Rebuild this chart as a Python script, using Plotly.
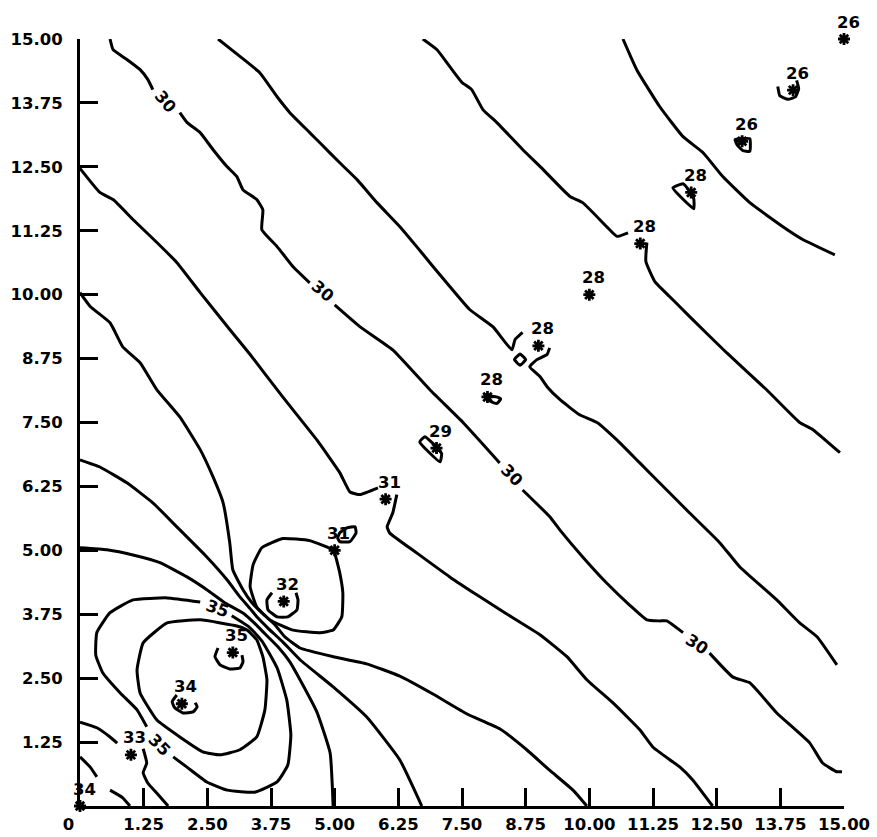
import plotly.graph_objects as go

# Sample sites along the diagonal transect and the value measured at each
site_x = [0, 1, 2, 3, 4, 5, 6, 7, 8, 9, 10, 11, 12, 13, 14, 15]
site_y = [0, 1, 2, 3, 4, 5, 6, 7, 8, 9, 10, 11, 12, 13, 14, 15]
site_val = [34, 33, 34, 35, 32, 31, 31, 29, 28, 28, 28, 28, 28, 26, 26, 26]

# Axis ticks
tick_vals = [0, 1.25, 2.5, 3.75, 5, 6.25, 7.5, 8.75, 10, 11.25, 12.5, 13.75, 15]
x_tick_text = ["0\u00a0\u00a0\u00a0\u00a0", "1.25", "2.50", "3.75", "5.00", "6.25", "7.50",
               "8.75", "10.00", "11.25", "12.50", "13.75", "15.00"]
y_tick_vals = tick_vals[1:]
y_tick_text = ["1.25", "2.50", "3.75", "5.00", "6.25", "7.50", "8.75",
               "10.00", "11.25", "12.50", "13.75", "15.00"]

# ---- isoline traces (x, y in map units) ----
c27_x = [10.66, 10.93, 11.38, 11.84, 12.23, 12.62, 13.15, 13.80, 14.19, 14.82]
c27_y = [15.0, 14.40, 13.68, 13.09, 12.78, 12.31, 11.80, 11.33, 11.08, 10.78]

c28a_x = [6.73, 7.01, 7.26, 7.50, 7.69, 7.91, 8.18, 8.69, 9.09, 9.62, 9.87, 10.34, 10.54, 10.76]
c28a_y = [15.0, 14.79, 14.46, 14.15, 14.01, 13.62, 13.37, 12.84, 12.45, 11.92, 11.80, 11.33, 11.14, 11.21]
c28b_x = [11.13, 11.11, 11.29, 11.58, 11.97, 12.70, 13.48, 14.13, 14.39, 14.92]
c28b_y = [11.02, 10.65, 10.25, 9.96, 9.57, 8.86, 8.14, 7.50, 7.36, 6.91]

c29a_x = [2.71, 3.14, 3.53, 3.87, 4.12, 4.51, 4.71, 5.10, 5.44, 5.83, 6.28, 6.61, 6.93, 7.26,
          7.65, 8.11, 8.48, 8.54, 8.64, 8.69]
c29a_y = [15.0, 14.66, 14.34, 13.87, 13.56, 13.17, 12.97, 12.58, 12.25, 11.80, 11.33, 10.94,
          10.55, 10.16, 9.71, 9.37, 8.92, 9.12, 9.22, 9.26]
c29b_x = [9.22, 9.17, 8.97, 8.83, 9.03, 9.17, 9.42, 9.81, 10.15, 10.54, 10.99, 11.52, 11.97,
          12.56, 12.95, 13.41, 13.68, 14.13, 14.47, 14.86]
c29b_y = [8.96, 8.83, 8.73, 8.59, 8.40, 8.20, 7.95, 7.65, 7.50, 7.16, 6.71, 6.18, 5.73,
          5.15, 4.68, 4.27, 4.03, 3.58, 3.31, 2.76]

c30_1_x = [0.59, 0.65, 0.92, 1.18, 1.33, 1.43]
c30_1_y = [15.0, 14.79, 14.60, 14.40, 14.21, 14.01]
c30_2_x = [1.96, 2.10, 2.36, 2.61, 2.89, 3.08, 3.20, 3.47, 3.59, 3.57, 3.87, 4.18, 4.51]
c30_2_y = [13.56, 13.37, 13.17, 12.84, 12.50, 12.31, 12.05, 11.86, 11.66, 11.27, 10.94, 10.55, 10.23]
c30_3_x = [5.00, 5.50, 6.14, 6.87, 7.52, 8.24]
c30_3_y = [9.80, 9.37, 8.92, 8.14, 7.50, 6.71]
c30_4_x = [8.69, 9.22, 9.42, 9.87, 10.34, 10.79, 11.13, 11.38, 11.52, 11.84]
c30_4_y = [6.18, 5.66, 5.40, 4.87, 4.36, 3.93, 3.64, 3.62, 3.62, 3.39]
c30_5_x = [12.36, 12.82, 13.15, 13.68, 14.33, 14.58, 14.86, 14.96]
c30_5_y = [2.99, 2.52, 2.41, 1.82, 1.23, 0.84, 0.67, 0.67]

c31a_x = [0, 0.39, 0.65, 1.04, 1.51, 1.90, 2.36, 2.94, 3.34, 3.98, 4.65, 5.10, 5.30, 5.50, 5.85]
c31a_y = [12.47, 12.00, 11.86, 11.47, 11.02, 10.63, 10.04, 9.32, 8.83, 8.00, 7.16, 6.52, 6.14, 6.09, 6.22]
c31b_x = [6.22, 6.14, 6.03, 6.08, 6.61, 7.26, 7.79, 8.34, 9.03, 9.56, 9.95, 10.46, 10.99,
          11.25, 11.78, 12.03, 12.42]
c31b_y = [6.09, 5.73, 5.46, 5.34, 4.95, 4.48, 4.13, 3.78, 3.35, 2.92, 2.47, 2.02, 1.49,
          1.15, 0.76, 0.51, 0]

# isolines squeezed through the saddle between the 32 and 35 sites
sad1_x = [0, 0.20, 0.59, 0.84, 1.18, 1.51, 1.96, 2.36, 2.61, 2.81, 2.94, 3.00, 3.20, 3.38, 3.57,
          3.83, 4.02, 4.32, 4.97, 5.63, 6.28, 6.93, 7.60, 8.24, 8.77, 9.22, 9.68, 9.95]
sad1_y = [10.04, 9.77, 9.45, 8.98, 8.67, 8.14, 7.61, 6.97, 6.44, 5.93, 5.15, 4.62, 4.23, 3.97, 3.78,
          3.54, 3.31, 3.09, 2.92, 2.78, 2.54, 2.19, 1.80, 1.51, 1.10, 0.70, 0.31, 0]
sad2_x = [0, 0.39, 0.92, 1.43, 1.96, 2.49, 2.89, 3.14, 3.34, 3.49, 3.69, 3.98, 4.32, 4.97, 5.63, 6.28, 6.71]
sad2_y = [6.77, 6.63, 6.32, 5.93, 5.40, 4.87, 4.42, 4.09, 3.86, 3.68, 3.48, 3.21, 2.86, 2.33, 1.74, 0.90, 0]
sad3_x = [0, 0.53, 1.04, 1.57, 2.10, 2.49, 2.85, 3.22, 3.42, 3.61, 3.89, 4.12, 4.32, 4.65, 4.91, 4.97]
sad3_y = [5.05, 5.01, 4.91, 4.76, 4.48, 4.23, 3.97, 3.76, 3.58, 3.39, 3.11, 2.82, 2.47, 1.84, 1.04, 0]

# outer 35 ring (two pieces split by its labels)
c35o_a_x = [2.98, 3.32, 3.57, 3.87, 4.06, 4.14, 4.08, 3.87, 3.43, 2.89, 2.49, 2.10, 1.83]
c35o_a_y = [3.72, 3.50, 3.23, 2.70, 2.07, 1.39, 0.80, 0.47, 0.27, 0.31, 0.47, 0.76, 0.96]
c35o_b_x = [1.31, 1.12, 0.79, 0.45, 0.31, 0.33, 0.59, 1.04, 1.71, 2.36]
c35o_b_y = [1.55, 1.88, 2.21, 2.60, 2.95, 3.39, 3.78, 4.03, 4.07, 3.99]

# inner ring around the 34 / 35 sites
c35i_x = [3.28, 3.08, 2.36, 1.71, 1.24, 1.12, 1.18, 1.51, 1.96, 2.41, 2.75, 3.14, 3.47, 3.63,
          3.67, 3.59, 3.47, 3.28]
c35i_y = [3.44, 3.52, 3.64, 3.58, 3.19, 2.66, 2.21, 1.68, 1.35, 1.06, 1.00, 1.10, 1.35, 1.88,
          2.47, 2.92, 3.25, 3.44]

# ring around the 32 site
c32_x = [4.97, 4.51, 3.98, 3.57, 3.40, 3.34, 3.47, 3.73, 4.18, 4.71, 4.97, 5.14, 5.16, 5.10, 5.00, 4.97]
c32_y = [5.01, 5.19, 5.23, 5.05, 4.72, 4.29, 3.89, 3.64, 3.44, 3.39, 3.44, 3.70, 4.17, 4.56, 4.95, 5.01]

# corner isolines near the origin
c33a_x = [0, 0.33, 0.59, 0.73]
c33a_y = [1.64, 1.53, 1.35, 1.23]
c33b_x = [1.24, 1.31, 1.24, 1.33, 1.51, 1.73]
c33b_y = [1.12, 0.84, 0.65, 0.45, 0.25, 0]
c34a_x = [0, 0.20, 0.33]
c34a_y = [0.96, 0.76, 0.57]
c34b_x = [0.59, 0.84, 0.98]
c34b_y = [0.31, 0.16, 0]

# small closed isolines hugging individual sites
s14_x = [13.70, 13.74, 13.90, 14.05, 14.11, 14.07]
s14_y = [14.07, 13.89, 13.82, 13.87, 14.03, 14.19]
s13_x = [12.86, 13.15, 13.15, 13.01, 12.91, 12.86]
s13_y = [13.03, 13.05, 12.80, 12.82, 12.92, 13.03]
s12_x = [11.64, 11.84, 11.97, 12.05, 12.05, 11.64]
s12_y = [12.09, 12.17, 12.02, 11.88, 11.68, 12.09]
s9_x = [8.53, 8.64, 8.75, 8.64, 8.53]
s9_y = [8.73, 8.84, 8.73, 8.62, 8.73]
s8_x = [7.95, 8.05, 8.18, 8.26, 8.18, 8.05, 7.95]
s8_y = [8.04, 8.02, 8.00, 7.96, 7.87, 7.92, 8.04]
s7_x = [6.67, 6.77, 7.01, 7.10, 7.07, 6.67]
s7_y = [7.12, 7.22, 7.01, 6.89, 6.73, 7.12]
s5_x = [5.10, 5.24, 5.40, 5.42, 5.30, 5.10, 5.06, 5.10]
s5_y = [5.34, 5.44, 5.46, 5.34, 5.17, 5.17, 5.24, 5.34]
s4_x = [3.77, 3.67, 3.69, 3.87, 4.08, 4.26, 4.28, 4.24]
s4_y = [4.17, 4.03, 3.84, 3.70, 3.70, 3.84, 4.03, 4.17]
s3_x = [2.71, 2.65, 2.75, 2.94, 3.14, 3.20, 3.18]
s3_y = [3.09, 2.92, 2.76, 2.68, 2.70, 2.82, 2.95]
s2_x = [1.90, 1.81, 1.86, 2.02, 2.22, 2.30, 2.26]
s2_y = [2.17, 2.04, 1.92, 1.82, 1.84, 1.94, 2.02]

# in-line isoline labels
iso_label_text = ["30", "30", "30", "30", "35", "35"]
iso_label_x = [1.67, 4.77, 8.48, 12.11, 2.69, 1.57]
iso_label_y = [13.78, 10.06, 6.46, 3.15, 3.87, 1.19]
iso_label_angle = [50, 40, 45, 33, 20, 45]

lines = [
    (c27_x, c27_y), (c28a_x, c28a_y), (c28b_x, c28b_y), (c29a_x, c29a_y), (c29b_x, c29b_y),
    (c30_1_x, c30_1_y), (c30_2_x, c30_2_y), (c30_3_x, c30_3_y), (c30_4_x, c30_4_y),
    (c30_5_x, c30_5_y), (c31a_x, c31a_y), (c31b_x, c31b_y),
    (sad1_x, sad1_y), (sad2_x, sad2_y), (sad3_x, sad3_y),
    (c35o_a_x, c35o_a_y), (c35o_b_x, c35o_b_y), (c35i_x, c35i_y), (c32_x, c32_y),
    (c33a_x, c33a_y), (c33b_x, c33b_y), (c34a_x, c34a_y), (c34b_x, c34b_y),
    (s14_x, s14_y), (s13_x, s13_y), (s12_x, s12_y), (s9_x, s9_y), (s8_x, s8_y),
    (s7_x, s7_y), (s5_x, s5_y), (s4_x, s4_y), (s3_x, s3_y), (s2_x, s2_y),
]

FONT = "DejaVu Sans"
INK = "black"
TXT = dict(family=FONT, size=16.5, color=INK, weight="bold")

fig = go.Figure()

for lx, ly in lines:
    fig.add_trace(go.Scatter(
        x=lx, y=ly, mode="lines",
        line=dict(color=INK, width=3, shape="spline", smoothing=0.4),
        hoverinfo="skip", showlegend=False, cliponaxis=False,
    ))

# measured sites
fig.add_trace(go.Scatter(
    x=site_x, y=site_y, mode="markers",
    marker=dict(symbol="asterisk-open", size=10, color=INK, line=dict(color=INK, width=2.8)),
    hoverinfo="skip", showlegend=False, cliponaxis=False,
))

annotations = []
for sx, sy, v in zip(site_x, site_y, site_val):
    annotations.append(dict(
        x=sx, y=sy, text=str(v), showarrow=False, xshift=4, yshift=17, font=TXT,
    ))
for t, lx, ly, ang in zip(iso_label_text, iso_label_x, iso_label_y, iso_label_angle):
    annotations.append(dict(
        x=lx, y=ly, text=t, showarrow=False, textangle=ang, font=TXT,
    ))

axis_common = dict(
    range=[0, 15], showgrid=False, zeroline=False, automargin=False,
    showline=True, linecolor=INK, linewidth=3,
    ticks="inside", ticklen=18, tickwidth=3, tickcolor=INK,
    tickfont=TXT, mirror=False,
)

fig.update_layout(
    width=877, height=837,
    margin=dict(l=80, r=33, t=39, b=31, pad=0),
    paper_bgcolor="white", plot_bgcolor="white",
    font=TXT,
    showlegend=False,
    annotations=annotations,
    xaxis=dict(axis_common, tickmode="array", tickvals=tick_vals, ticktext=x_tick_text,
               ticklabelstandoff=1),
    yaxis=dict(axis_common, tickmode="array", tickvals=y_tick_vals, ticktext=y_tick_text,
               ticklabelstandoff=11),
)

fig.write_html("out.html")
